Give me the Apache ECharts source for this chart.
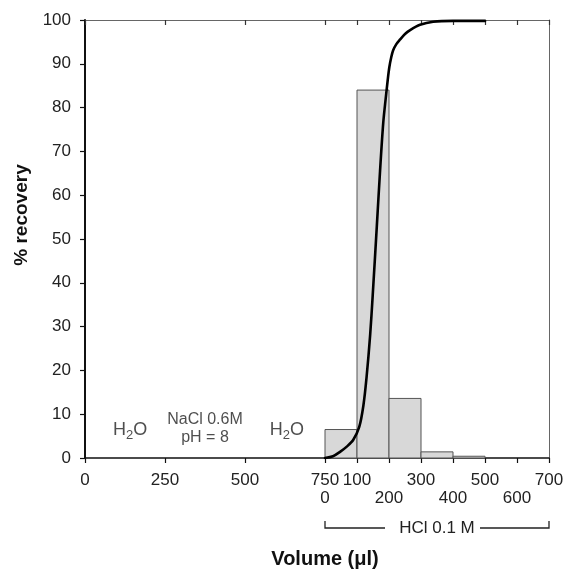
<!DOCTYPE html>
<html>
<head>
<meta charset="utf-8">
<script src="https://cdn.jsdelivr.net/npm/echarts@6/dist/echarts.min.js"></script>
<style>
html,body{margin:0;padding:0;background:#fff;}
#main{width:566px;height:571px;}
</style>
</head>
<body>
<div id="main"></div>
<script>
// ---- data ----
// continuous volume scale: 0-750 (H2O / NaCl / H2O), then 750-1450 = HCl 0-700 µl
const xTickValues = [0, 250, 500, 750, 850, 950, 1050, 1150, 1250, 1350, 1450];
const xTickLabels = ['0', '250', '500', '750\n0', '100', '\n200', '300', '\n400', '500', '\n600', '700'];
const yTickStep = 10;

const binStart = [750, 850, 950, 1050, 1150];
const binEnd = [850, 950, 1050, 1150, 1250];
const binValues = [6.5, 84, 13.6, 1.4, 0.4];

const curveX = [750, 775, 797, 818, 838, 857, 870, 880, 891, 899, 912, 922, 932, 940, 946, 951, 957, 963, 973, 984, 1000, 1016, 1047, 1088, 1150, 1250];
const curveY = [0, 0.4, 1.4, 2.6, 4.1, 7.1, 12, 18.5, 28, 37, 53, 65.5, 76.5, 82.3, 86.3, 89.2, 91.5, 93.1, 94.5, 95.5, 96.8, 97.7, 98.9, 99.6, 99.8, 99.8];

const annotX = [141, 375, 631];
const annotY = [6.4, 6.6, 6.4];
const annotText = ['{a|H}{s|2}{a|O}', '{b|NaCl 0.6M}\n{b|pH = 8}', '{a|H}{s|2}{a|O}'];

const hclRange = [750, 1450];
const hclLabel = 'HCl 0.1 M';

// ---- chart ----
const FONT = '"Liberation Sans", Arial, Helvetica, sans-serif';
const chart = echarts.init(document.getElementById('main'), null, {renderer: 'canvas'});

const bins = binStart.map((s, i) => [s, binEnd[i], binValues[i]]);
const curve = curveX.map((x, i) => [x, curveY[i]]);
const annots = annotX.map((x, i) => ({value: [x, annotY[i]], label: {formatter: annotText[i]}}));

const option = {
  animation: false,
  backgroundColor: '#fff',
  grid: {left: 85, top: 20, right: 17, bottom: 113, containLabel: false, outerBoundsMode: 'none'},
  xAxis: [{
    type: 'value', min: 0, max: 1450, position: 'bottom',
    name: 'Volume (μl)', nameLocation: 'middle', nameGap: 91,
    nameTextStyle: {fontFamily: FONT, fontSize: 20, fontWeight: 'bold', color: '#111', padding: [0, 0, 0, 16]},
    axisLine: {show: true, onZero: false, lineStyle: {color: '#111', width: 1.5}},
    axisTick: {show: true, inside: false, length: 5, customValues: xTickValues, lineStyle: {color: '#111', width: 1.2}},
    axisLabel: {
      show: true, customValues: xTickValues, margin: 13,
      fontFamily: FONT, fontSize: 17, color: '#222', lineHeight: 18,
      formatter: function (v) { const i = xTickValues.indexOf(v); return i >= 0 ? xTickLabels[i] : ''; }
    },
    splitLine: {show: false}
  }, {
    type: 'value', min: 0, max: 1450, position: 'top',
    axisLine: {show: true, onZero: false, lineStyle: {color: '#666', width: 1}},
    axisTick: {show: true, inside: true, length: 5, customValues: xTickValues, lineStyle: {color: '#333', width: 1.2}},
    axisLabel: {show: false},
    splitLine: {show: false}
  }],
  yAxis: [{
    type: 'value', min: 0, max: 100, interval: yTickStep, position: 'left',
    name: '% recovery', nameLocation: 'middle', nameGap: 52,
    nameTextStyle: {fontFamily: FONT, fontSize: 19, fontWeight: 'bold', color: '#111', padding: [0, 0, 0, 48]},
    axisLine: {show: true, onZero: false, lineStyle: {color: '#111', width: 2}},
    axisTick: {show: true, inside: false, length: 5, lineStyle: {color: '#111', width: 1.2}},
    axisLabel: {show: true, margin: 14, fontFamily: FONT, fontSize: 17, color: '#222'},
    splitLine: {show: false}
  }, {
    type: 'value', min: 0, max: 100, position: 'right',
    axisLine: {show: true, onZero: false, lineStyle: {color: '#666', width: 1}},
    axisTick: {show: false}, axisLabel: {show: false}, splitLine: {show: false}
  }],
  series: [{
    type: 'custom',
    name: 'fractions',
    xAxisIndex: 0, yAxisIndex: 0,
    data: bins,
    encode: {x: [0, 1], y: 2},
    renderItem: function (params, api) {
      const tl = api.coord([api.value(0), api.value(2)]);
      const br = api.coord([api.value(1), 0]);
      return {
        type: 'rect',
        shape: {x: tl[0], y: tl[1], width: br[0] - tl[0], height: br[1] - tl[1]},
        style: {fill: '#d8d8d8', stroke: '#555', lineWidth: 1}
      };
    },
    z: 2
  }, {
    type: 'line',
    name: 'cumulative',
    data: curve,
    smooth: 0.3,
    showSymbol: false,
    lineStyle: {color: '#000', width: 2.6, join: 'round', cap: 'round'},
    z: 3
  }, {
    type: 'scatter',
    name: 'annotations',
    data: annots,
    symbolSize: 0,
    silent: true,
    label: {
      show: true, position: 'inside', align: 'center', verticalAlign: 'middle',
      fontFamily: FONT, color: '#222',
      rich: {
        a: {fontFamily: FONT, fontSize: 18, color: '#222', lineHeight: 20},
        s: {fontFamily: FONT, fontSize: 13, color: '#222', lineHeight: 20, padding: [10, 0, 0, 0]},
        b: {fontFamily: FONT, fontSize: 16, color: '#222', lineHeight: 18, align: 'center'}
      }
    },
    z: 4
  }]
};
chart.setOption(option);

// HCl bracket below the axis, positioned from the axis scale
const xl = chart.convertToPixel({xAxisIndex: 0}, hclRange[0]);
const xr = chart.convertToPixel({xAxisIndex: 0}, hclRange[1]);
const xm = (xl + xr) / 2;
const yb = chart.convertToPixel({yAxisIndex: 0}, 0) + 70;
const halfText = 40;
chart.setOption({
  graphic: [
    {type: 'polyline', shape: {points: [[xl, yb - 7], [xl, yb], [xm - halfText - 12, yb]]}, style: {stroke: '#222', lineWidth: 1.3, fill: null}},
    {type: 'polyline', shape: {points: [[xm + halfText + 3, yb], [xr, yb], [xr, yb - 7]]}, style: {stroke: '#222', lineWidth: 1.3, fill: null}},
    {type: 'text', x: xm, y: yb, style: {text: hclLabel, fontFamily: FONT, fontSize: 17, fill: '#222', align: 'center', verticalAlign: 'middle'}}
  ]
});
</script>
</body>
</html>
